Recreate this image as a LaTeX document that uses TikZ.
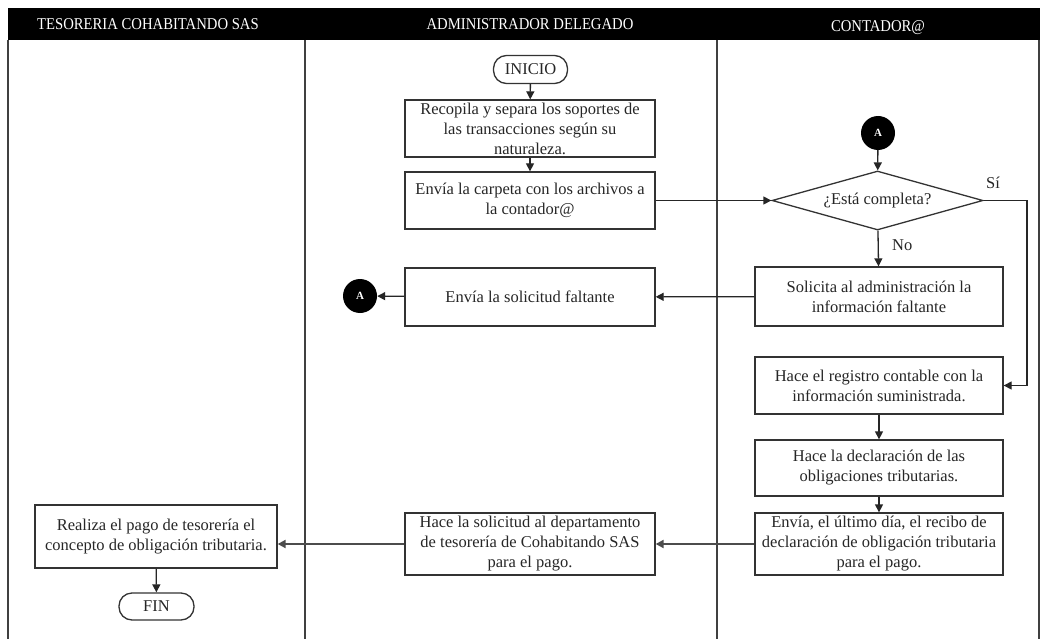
\documentclass[tikz,border=0pt]{standalone}
\usepackage{fontspec}
\setmainfont{Liberation Serif}
\newfontfamily\headfont[FakeStretch=0.89]{Liberation Serif}
\usetikzlibrary{shapes.geometric,arrows.meta}
\begin{document}
\begin{tikzpicture}[x=1pt,y=-1pt,
  every node/.style={font=\fontsize{16.5}{20}\selectfont, text=black!85},
  procbox/.style={draw=black!80, line width=1.3pt, fill=white, align=center, inner sep=1pt},
  termbox/.style={draw=black!80, line width=1.3pt, fill=white, rounded corners=13pt, inner sep=1pt},
  conn/.style={circle, fill=black, text=white, minimum size=34pt, inner sep=0pt, font=\fontsize{11}{12}\selectfont\bfseries},
  decbox/.style={diamond, draw=black!80, line width=1.3pt, fill=white, aspect=3.58, minimum width=211pt, minimum height=59pt, inner sep=0pt},
  flow/.style={line width=1.3pt, draw=black!85, -{Triangle[length=8pt,width=8pt]}},
  heavyflow/.style={flow, line width=2.2pt, draw=black!70},
  lane/.style={line width=1.2pt, draw=black!75},
  headtxt/.style={text=white, font=\fontsize{16.5}{18}\headfont}
]
\useasboundingbox (0,0) rectangle (1040,639);
\fill[white] (0,0) rectangle (1040,639);

% header band and lane separators
\fill[black] (8,8) rectangle (1040,40);
\draw[lane] (8,40) -- (8,639);
\draw[lane] (305,40) -- (305,639);
\draw[lane] (717,40) -- (717,639);
\draw[lane] (1039,40) -- (1039,639);
\node[headtxt] (h1) at (148,24) {TESORERIA COHABITANDO SAS};
\node[headtxt] (h2) at (530,24) {ADMINISTRADOR DELEGADO};
\node[headtxt] (h3) at (878,28) {CONTADOR@};

% administrador delegado
\node[termbox, minimum width=74pt, minimum height=28pt] (inicio) at (530.5,69.5) {INICIO};
\node[procbox, minimum width=250pt, minimum height=57pt] (b1) at (530,128.5)
  {Recopila y separa los soportes de\\las transacciones según su\\naturaleza.};
\node[procbox, minimum width=250pt, minimum height=57pt] (b2) at (530,200.5)
  {Envía la carpeta con los archivos a\\la contador@};
\node[procbox, minimum width=250pt, minimum height=58pt] (envsol) at (530,297)
  {Envía la solicitud faltante};
\node[conn] (a2) at (360,296) {A};
\node[procbox, minimum width=250pt, minimum height=62pt] (hsol) at (530,544)
  {Hace la solicitud al departamento\\de tesorería de Cohabitando SAS\\para el pago.};

% contador@
\node[conn] (a1) at (878,133) {A};
\node[decbox] (dec) at (877.5,200.5) {¿Está completa?};
\node[procbox, minimum width=248pt, minimum height=59pt] (sol) at (879,296.5)
  {Solicita al administración la\\información faltante};
\node[procbox, minimum width=248pt, minimum height=57pt] (reg) at (879,385.5)
  {Hace el registro contable con la\\información suministrada.};
\node[procbox, minimum width=248pt, minimum height=56pt] (decl) at (879,468)
  {Hace la declaración de las\\obligaciones tributarias.};
\node[procbox, minimum width=248pt, minimum height=62pt] (envult) at (879,544)
  {Envía, el último día, el recibo de\\declaración de obligación tributaria\\para el pago.};

% tesoreria
\node[procbox, minimum width=242pt, minimum height=63pt] (real) at (156,536.5)
  {Realiza el pago de tesorería el\\concepto de obligación tributaria.};
\node[termbox, minimum width=75pt, minimum height=27pt] (fin) at (156.5,606.5) {FIN};

% connectors
\draw[flow] (inicio) -- (b1);
\draw[flow] (b1) -- (b2);
\draw[flow] (b2) -- (dec);
\draw[flow] (a1) -- (dec);
\draw[flow] (dec) -- node[right, pos=0.4, xshift=10pt] (nolbl) {No} (sol);
\coordinate (si) at (1027,200.5);
\draw[flow] (dec.east) -- (si) |- (reg.east);
\node (silbl) at (993,183) {Sí};
\draw[flow] (sol) -- (envsol);
\draw[flow] (envsol) -- (a2);
\draw[flow] (reg) -- (decl);
\draw[flow] (decl) -- (envult);
\draw[heavyflow] (envult) -- (hsol);
\draw[heavyflow] (hsol.west) -- (hsol.west -| real.east);
\draw[flow] (real) -- (fin);
\end{tikzpicture}
\end{document}
